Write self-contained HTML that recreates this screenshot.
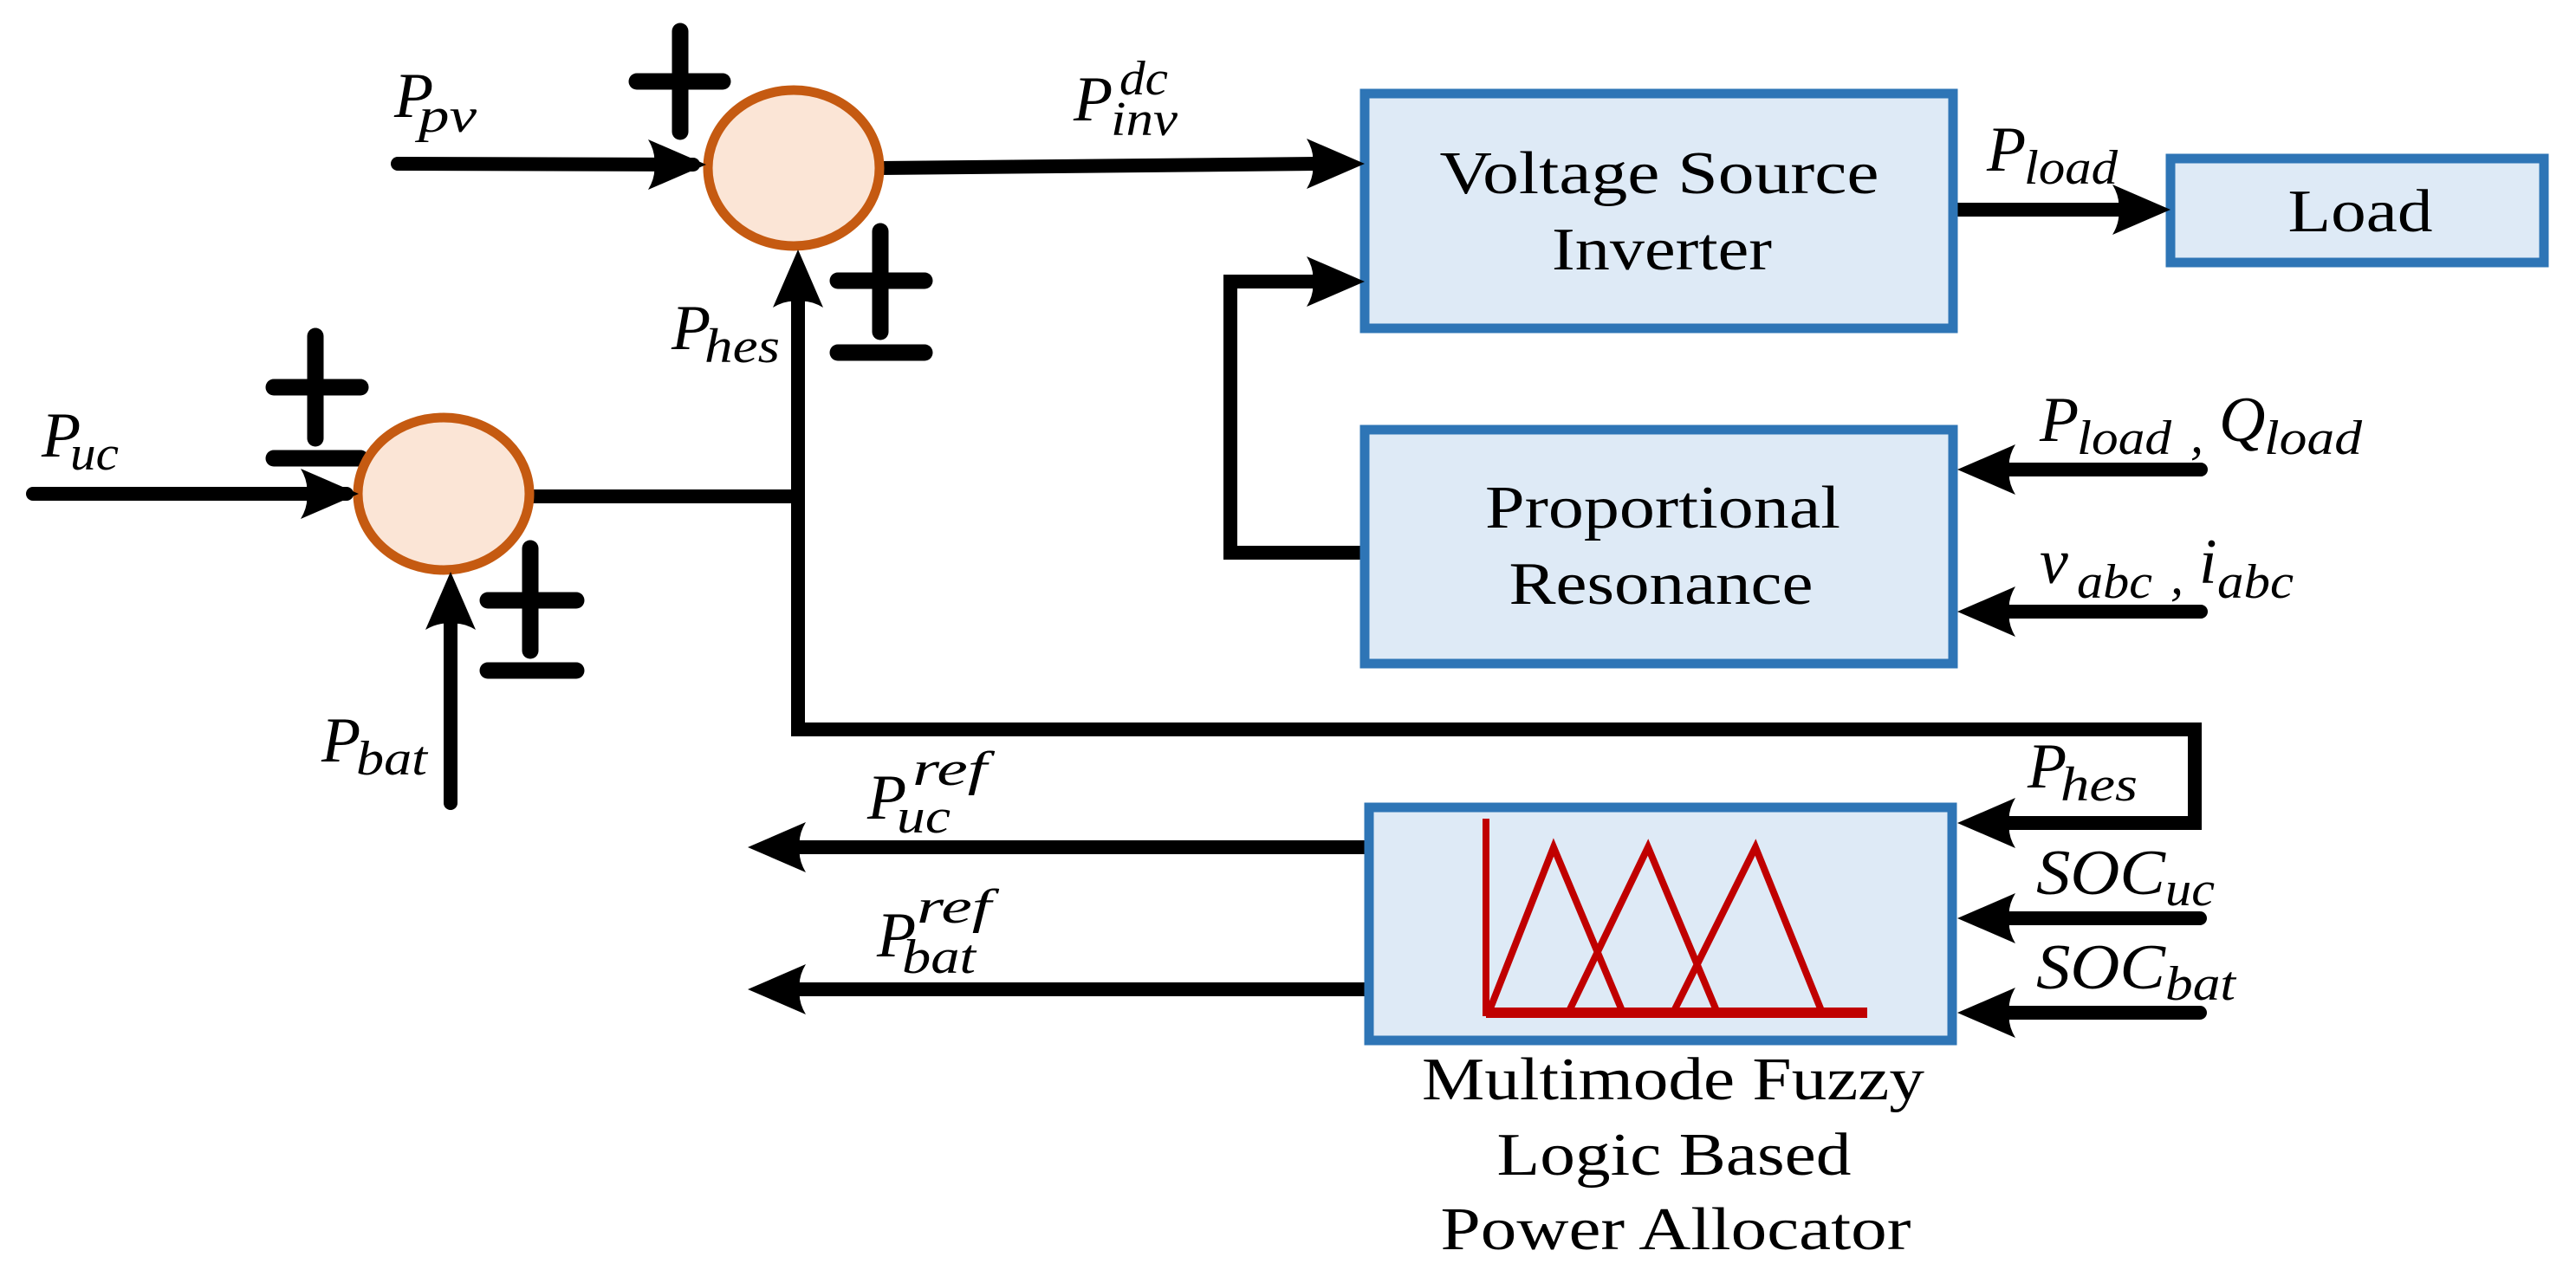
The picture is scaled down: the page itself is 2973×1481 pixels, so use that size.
<!DOCTYPE html>
<html><head><meta charset="utf-8"><style>
html,body{margin:0;padding:0;background:#fff;}
svg{display:block;}
.m{font-family:"Liberation Serif",serif;font-style:italic;fill:#000;}
.t{font-family:"Liberation Serif",serif;fill:#000;}
</style></head><body>
<svg width="2973" height="1481" viewBox="0 0 2973 1481" xmlns="http://www.w3.org/2000/svg">
<defs>
<path id="ah" d="M0,0 L-67,-29 Q-58,-14 -60,0 Q-58,14 -67,29 Z" fill="#000"/>
</defs>
<g stroke="#000" stroke-width="16" fill="none" stroke-linecap="round">
<line x1="459" y1="189" x2="800" y2="190"/>
<line x1="1014" y1="194" x2="1520" y2="189"/>
<line x1="38" y1="570" x2="400" y2="570"/>
<line x1="520" y1="927" x2="520" y2="700"/>
<line x1="612" y1="573" x2="921" y2="573" stroke-linecap="butt"/>
<polyline points="921,330 921,842 2533,842 2533,950 2300,950" stroke-linecap="butt" stroke-linejoin="miter"/>
<polyline points="1570,638 1420,638 1420,325 1520,325" stroke-linecap="butt" stroke-linejoin="miter"/>
<line x1="2251" y1="242" x2="2450" y2="242"/>
<line x1="2540" y1="542" x2="2300" y2="542"/>
<line x1="2540" y1="706" x2="2300" y2="706"/>
<line x1="2539" y1="1060" x2="2300" y2="1060"/>
<line x1="2539" y1="1169" x2="2300" y2="1169"/>
<line x1="1578" y1="978" x2="900" y2="978"/>
<line x1="1578" y1="1142" x2="900" y2="1142"/>
<line x1="785" y1="36" x2="785" y2="152" stroke-width="19"/>
<line x1="735" y1="94" x2="834" y2="94" stroke-width="19"/>
<line x1="1016" y1="267" x2="1016" y2="383" stroke-width="19"/>
<line x1="967" y1="324" x2="1067" y2="324" stroke-width="19"/>
<line x1="967" y1="407" x2="1067" y2="407" stroke-width="19"/>
<line x1="364" y1="388" x2="364" y2="506" stroke-width="19"/>
<line x1="316" y1="447" x2="416" y2="447" stroke-width="19"/>
<line x1="316" y1="529" x2="416" y2="529" stroke-width="19"/>
<line x1="612" y1="633" x2="612" y2="751" stroke-width="19"/>
<line x1="563" y1="693" x2="665" y2="693" stroke-width="19"/>
<line x1="563" y1="774" x2="665" y2="774" stroke-width="19"/>
</g>
<ellipse cx="916" cy="194" rx="99" ry="90" fill="#FBE5D6" stroke="#C55A11" stroke-width="11"/>
<ellipse cx="512" cy="570" rx="99" ry="88" fill="#FBE5D6" stroke="#C55A11" stroke-width="11"/>
<g fill="#DEEAF6" stroke="#2E75B6" stroke-width="11">
<rect x="1575" y="108" width="679" height="271"/>
<rect x="2505" y="183" width="431" height="120"/>
<rect x="1575" y="496" width="679" height="270"/>
<rect x="1580" y="932" width="673" height="269"/>
</g>
<use href="#ah" transform="translate(815,190)"/>
<use href="#ah" transform="translate(1575,189)"/>
<use href="#ah" transform="translate(1575,325)"/>
<use href="#ah" transform="translate(414,570)"/>
<use href="#ah" transform="translate(520,660) rotate(-90)"/>
<use href="#ah" transform="translate(921,288) rotate(-90)"/>
<use href="#ah" transform="translate(2505,242)"/>
<use href="#ah" transform="translate(2259,542) rotate(180)"/>
<use href="#ah" transform="translate(2259,706) rotate(180)"/>
<use href="#ah" transform="translate(2259,950) rotate(180)"/>
<use href="#ah" transform="translate(2259,1060) rotate(180)"/>
<use href="#ah" transform="translate(2259,1169) rotate(180)"/>
<use href="#ah" transform="translate(863,978) rotate(180)"/>
<use href="#ah" transform="translate(863,1142) rotate(180)"/>
<g stroke="#C00000" fill="none" stroke-width="8">
<line x1="1715" y1="945" x2="1715" y2="1173"/>
<line x1="1715" y1="1169" x2="2155" y2="1169" stroke-width="12"/>
<polyline points="1718,1169 1793,978 1873,1169"/>
<polyline points="1810,1169 1902,978 1982,1169"/>
<polyline points="1931,1169 2026,978 2103,1169"/>
</g>
<g class="t" font-size="70" text-anchor="middle">
<text x="1915" y="223" textLength="507" lengthAdjust="spacingAndGlyphs">Voltage Source</text>
<text x="1918" y="311" textLength="254" lengthAdjust="spacingAndGlyphs">Inverter</text>
<text x="2724" y="267" textLength="167" lengthAdjust="spacingAndGlyphs">Load</text>
<text x="1919" y="609" textLength="410" lengthAdjust="spacingAndGlyphs">Proportional</text>
<text x="1917" y="697" textLength="351" lengthAdjust="spacingAndGlyphs">Resonance</text>
<text x="1931" y="1269" textLength="580" lengthAdjust="spacingAndGlyphs">Multimode Fuzzy</text>
<text x="1932" y="1356" textLength="409" lengthAdjust="spacingAndGlyphs">Logic Based</text>
<text x="1934" y="1442" textLength="543" lengthAdjust="spacingAndGlyphs">Power Allocator</text>
</g>
<g class="m">
<text x="455" y="135" font-size="74">P</text><text x="483" y="152" font-size="56" textLength="67" lengthAdjust="spacingAndGlyphs">pv</text>
<text x="1239" y="139" font-size="74">P</text><text x="1292" y="109" font-size="56" textLength="56" lengthAdjust="spacingAndGlyphs">dc</text><text x="1282" y="156" font-size="56" textLength="77" lengthAdjust="spacingAndGlyphs">inv</text>
<text x="775" y="403" font-size="74">P</text><text x="813" y="418" font-size="56" textLength="87" lengthAdjust="spacingAndGlyphs">hes</text>
<text x="48" y="527" font-size="74">P</text><text x="81" y="542" font-size="56" textLength="56" lengthAdjust="spacingAndGlyphs">uc</text>
<text x="371" y="879" font-size="74">P</text><text x="411" y="894" font-size="56" textLength="82" lengthAdjust="spacingAndGlyphs">bat</text>
<text x="2293" y="197" font-size="74">P</text><text x="2336" y="212" font-size="56" textLength="108" lengthAdjust="spacingAndGlyphs">load</text>
<text x="2354" y="509" font-size="74">P</text><text x="2397" y="524" font-size="56" textLength="109" lengthAdjust="spacingAndGlyphs">load</text><text x="2528" y="522" font-size="60">,</text><text x="2561" y="509" font-size="74">Q</text><text x="2613" y="524" font-size="56" textLength="113" lengthAdjust="spacingAndGlyphs">load</text>
<text x="2354" y="673" font-size="74">v</text><text x="2397" y="690" font-size="56" textLength="87" lengthAdjust="spacingAndGlyphs">abc</text><text x="2505" y="685" font-size="60">,</text><text x="2538" y="673" font-size="74">i</text><text x="2559" y="690" font-size="56" textLength="88" lengthAdjust="spacingAndGlyphs">abc</text>
<text x="2340" y="909" font-size="74">P</text><text x="2378" y="924" font-size="56" textLength="89" lengthAdjust="spacingAndGlyphs">hes</text>
<text x="1001" y="945" font-size="74">P</text><text x="1053" y="906" font-size="56" textLength="86" lengthAdjust="spacingAndGlyphs">ref</text><text x="1035" y="961" font-size="56" textLength="62" lengthAdjust="spacingAndGlyphs">uc</text>
<text x="1012" y="1104" font-size="74">P</text><text x="1058" y="1065" font-size="56" textLength="86" lengthAdjust="spacingAndGlyphs">ref</text><text x="1041" y="1123" font-size="56" textLength="85" lengthAdjust="spacingAndGlyphs">bat</text>
<text x="2350" y="1032" font-size="74" textLength="149" lengthAdjust="spacingAndGlyphs">SOC</text><text x="2499" y="1045" font-size="56" textLength="57" lengthAdjust="spacingAndGlyphs">uc</text>
<text x="2350" y="1141" font-size="74" textLength="149" lengthAdjust="spacingAndGlyphs">SOC</text><text x="2499" y="1154" font-size="56" textLength="81" lengthAdjust="spacingAndGlyphs">bat</text>
</g>
</svg>
</body></html>
